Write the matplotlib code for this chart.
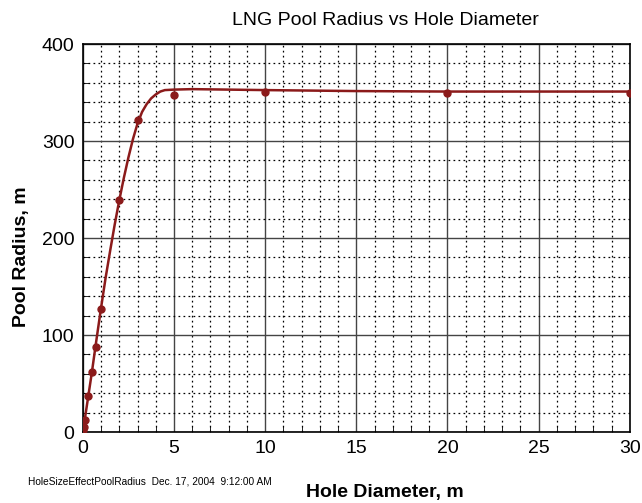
import matplotlib.pyplot as plt
from matplotlib.ticker import MultipleLocator

# Pontos calculados (marcadores)
hole_diameter = [0.01, 0.05, 0.1, 0.3, 0.5, 0.7, 1.0, 2.0, 3.0, 5.0, 10.0, 20.0, 30.0]
pool_radius = [2, 5, 12, 37, 62, 88, 127, 239, 322, 347, 351, 350, 350]

# Curva ajustada
fit_x = [0, 0.05, 0.3, 0.5, 0.7, 1.0, 1.25, 1.5, 1.75, 2.0, 2.25, 2.5, 2.75, 3.0,
         3.25, 3.5, 3.75, 4.0, 4.25, 4.5, 5.0, 6.0, 8.0, 10.0, 15.0, 20.0, 25.0, 30.0]
fit_y = [0, 6, 37, 62, 89, 128, 159, 187, 214, 239, 262, 283, 302, 318,
         330, 338, 344, 348, 351, 352.5, 353, 353.5, 353, 352.5, 351.5, 351, 351, 351]

plt.rcParams['font.family'] = ['Liberation Sans', 'DejaVu Sans']

fig = plt.figure(figsize=(6.42, 5.03), dpi=100)
ax = fig.add_axes([0.129, 0.141, 0.852, 0.7715])

ax.plot(fit_x, fit_y, color='#8b1a1a', linewidth=1.8, zorder=3)
ax.plot(hole_diameter, pool_radius, linestyle='none', marker='o',
        markersize=5, color='#8b1a1a', zorder=4)

ax.set_xlim(0, 30)
ax.set_ylim(0, 400)
ax.xaxis.set_major_locator(MultipleLocator(5))
ax.xaxis.set_minor_locator(MultipleLocator(1))
ax.yaxis.set_major_locator(MultipleLocator(100))
ax.yaxis.set_minor_locator(MultipleLocator(20))

ax.grid(True, which='major', color='#444444', linestyle='-', linewidth=1.0)
ax.grid(True, which='minor', color='black', linestyle=(0, (1.4, 2.6)), linewidth=0.9)
ax.set_axisbelow(True)

ax.tick_params(which='both', direction='in', labelsize=14, top=False, right=False)
ax.tick_params(which='major', length=0, pad=6)
ax.tick_params(which='minor', length=4)
for s in ax.spines.values():
    s.set_linewidth(1.2)

fig.text(0.6, 0.96, 'LNG Pool Radius vs Hole Diameter', ha='center', va='center', fontsize=14)
fig.text(0.6, 0.02, 'Hole Diameter, m', ha='center', va='center', fontsize=14, fontweight='bold')
fig.text(0.034, 0.49, 'Pool Radius, m', ha='center', va='center', rotation=90,
         fontsize=14, fontweight='bold')
fig.text(0.044, 0.042, 'HoleSizeEffectPoolRadius  Dec. 17, 2004  9:12:00 AM',
         ha='left', va='center', fontsize=7.3)

plt.savefig('out.png', dpi=100)
plt.close()
